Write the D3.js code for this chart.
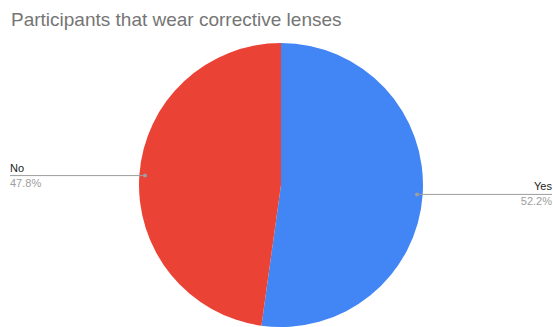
<!DOCTYPE html>
<html>
<head>
<meta charset="utf-8">
<script src="https://cdn.jsdelivr.net/npm/d3@7"></script>
<style>
  body { margin: 0; background: #fff; }
  svg { display: block; font-family: "Liberation Sans", Arial, sans-serif; }
</style>
</head>
<body>
<div id="chart"></div>
<script>
const labels = ["Yes", "No"];
const values = [52.2, 47.8];
const colors = ["#4285f4", "#ea4335"];

const width = 553, height = 327;
const cx = 281, cy = 185, radius = 142;

const svg = d3.select("#chart").append("svg")
    .attr("width", width)
    .attr("height", height);

svg.append("text")
    .attr("x", 11)
    .attr("y", 26)
    .attr("fill", "#757575")
    .style("font-size", "19px")
    .text("Participants that wear corrective lenses");

const data = labels.map((l, i) => ({label: l, value: values[i], color: colors[i]}));

const pie = d3.pie().sort(null).value(d => d.value);
const arcs = pie(data);
const arc = d3.arc().innerRadius(0).outerRadius(radius);

const g = svg.append("g").attr("transform", `translate(${cx},${cy})`);

g.selectAll("path")
    .data(arcs)
    .enter().append("path")
    .attr("d", arc)
    .attr("fill", d => d.data.color);

// leader lines
const dotArc = d3.arc().innerRadius(radius * 0.96).outerRadius(radius * 0.96);

arcs.forEach(d => {
    const [px, py] = dotArc.centroid(d);
    const right = px > 0;
    const endX = right ? width - cx - 1 : 10 - cx;
    g.append("line")
        .attr("x1", px).attr("y1", py)
        .attr("x2", endX).attr("y2", py)
        .attr("stroke", "#9e9e9e")
        .attr("stroke-width", 1);
    g.append("circle")
        .attr("cx", px).attr("cy", py)
        .attr("r", 2)
        .attr("fill", "#9e9e9e");
    g.append("text")
        .attr("x", endX)
        .attr("y", py - 4)
        .attr("text-anchor", right ? "end" : "start")
        .attr("fill", "#222")
        .style("font-size", "11px")
        .text(d.data.label);
    g.append("text")
        .attr("x", endX)
        .attr("y", py + 11)
        .attr("text-anchor", right ? "end" : "start")
        .attr("fill", "#9e9e9e")
        .style("font-size", "11px")
        .text(d3.format(".1f")(d.data.value) + "%");
});
</script>
</body>
</html>
